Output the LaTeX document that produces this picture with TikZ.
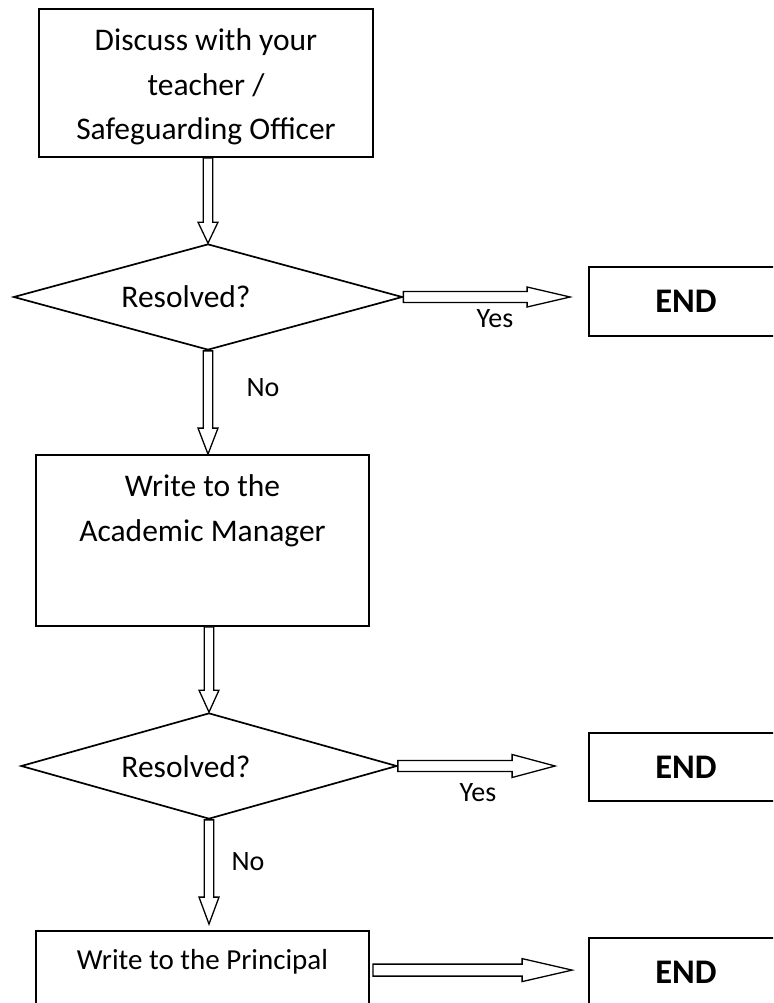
\documentclass[tikz,border=0pt]{standalone}
\usepackage{fontspec}
\setmainfont{Carlito}
\usetikzlibrary{positioning, shapes.geometric, calc}

\tikzset{
  box/.style={draw, line width=1.8pt, rectangle, inner sep=0pt},
  decision/.style={draw, line width=1.7pt, diamond, aspect=3.6, inner sep=0pt},
  txt/.style={font=\fontsize{31.5}{44.5}\selectfont, align=center, inner sep=0pt},
  endtxt/.style={font=\fontsize{34.5}{40}\selectfont\bfseries},
  lbl/.style={font=\fontsize{28}{34}\selectfont, inner sep=0pt},
  hollow/.style args={#1/#2/#3}{draw, line width=1.3pt, fill=white, to path={
    ($(\tikztostart)!#2pt!90:(\tikztotarget)$)
    -- ($(\tikztotarget)!#1pt!(\tikztostart)!#2pt!90:(\tikztotarget)$)
    -- ($(\tikztotarget)!#1pt!(\tikztostart)!#3pt!90:(\tikztotarget)$)
    -- (\tikztotarget)
    -- ($(\tikztotarget)!#1pt!(\tikztostart)!#3pt!-90:(\tikztotarget)$)
    -- ($(\tikztotarget)!#1pt!(\tikztostart)!#2pt!-90:(\tikztotarget)$)
    -- ($(\tikztostart)!#2pt!-90:(\tikztotarget)$)
    -- cycle}},
}

\begin{document}
\begin{tikzpicture}[x=1pt, y=-1pt]
\useasboundingbox (0,0) rectangle (773,1003);
\clip (0,0) rectangle (773,1003);

% first step
\node[box, minimum width=334, minimum height=148] (disc) at (206,83) {};
\node[txt] (disctxt) at (206,87) {Discuss with your\\teacher /\\Safeguarding Officer};
\node[decision, minimum width=389, minimum height=106] (res1) at (208,297) {};
\node[txt] (res1txt) at (186,297) {Resolved?};
\node[box, minimum width=194, minimum height=69] (end1) at (686,301.5) {};
\node[endtxt] (end1txt) at (end1.center) {END};

% second step
\node[box, minimum width=333, minimum height=171] (acad) at (202.5,540.5) {};
\node[txt] (acadtxt) at (202.5,511) {Write to the\\Academic Manager};
\node[decision, minimum width=376, minimum height=106] (res2) at (209,766) {};
\node[txt] (res2txt) at (186,767) {Resolved?};
\node[box, minimum width=194, minimum height=68] (end2) at (686,767) {};
\node[endtxt] (end2txt) at (end2.center) {END};

% last step
\node[box, minimum width=333, minimum height=120] (princ) at (202.5,991) {};
\node[txt, font=\fontsize{29}{34}\selectfont] (princtxt) at (202.5,962) {Write to the Principal};
\node[box, minimum width=194, minimum height=69] (end3) at (686,972.5) {};
\node[endtxt] (end3txt) at (end3.center) {END};

% arrows
\coordinate (a1) at (res1.north |- disc.south);
\coordinate (a2) at (res1.south |- acad.north);
\coordinate (a3) at (res2.north |- acad.south);
\coordinate (a4) at ($(res2.south |- princ.north)+(0,-6)$);
\coordinate (y1) at ($(end1.west |- res1.east)+(-18,0)$);
\coordinate (y2) at ($(end2.west |- res2.east)+(-33,0)$);
\coordinate (p0) at ($(princ.north east)+(3,40)$);
\coordinate (p1) at ($(end3.west |- p0)+(-16,0)$);

\draw[hollow=21/4.8/10] (a1) to (res1.north);
\draw[hollow=26/4.8/10] (res1.south) to (a2);
\draw[hollow=22/4.8/10] (a3) to (res2.north);
\draw[hollow=27/4.8/10] (res2.south) to (a4);
\draw[hollow=43/5.5/10] (res1.east) to (y1);
\draw[hollow=43/5.5/11.5] (res2.east) to (y2);
\draw[hollow=50/6/11.5] (p0) to (p1);

% labels
\node[lbl] (yes1) at (495,319) {Yes};
\node[lbl] (no1) at (263,388) {No};
\node[lbl] (yes2) at (478,793) {Yes};
\node[lbl] (no2) at (248,862) {No};
\end{tikzpicture}
\end{document}
